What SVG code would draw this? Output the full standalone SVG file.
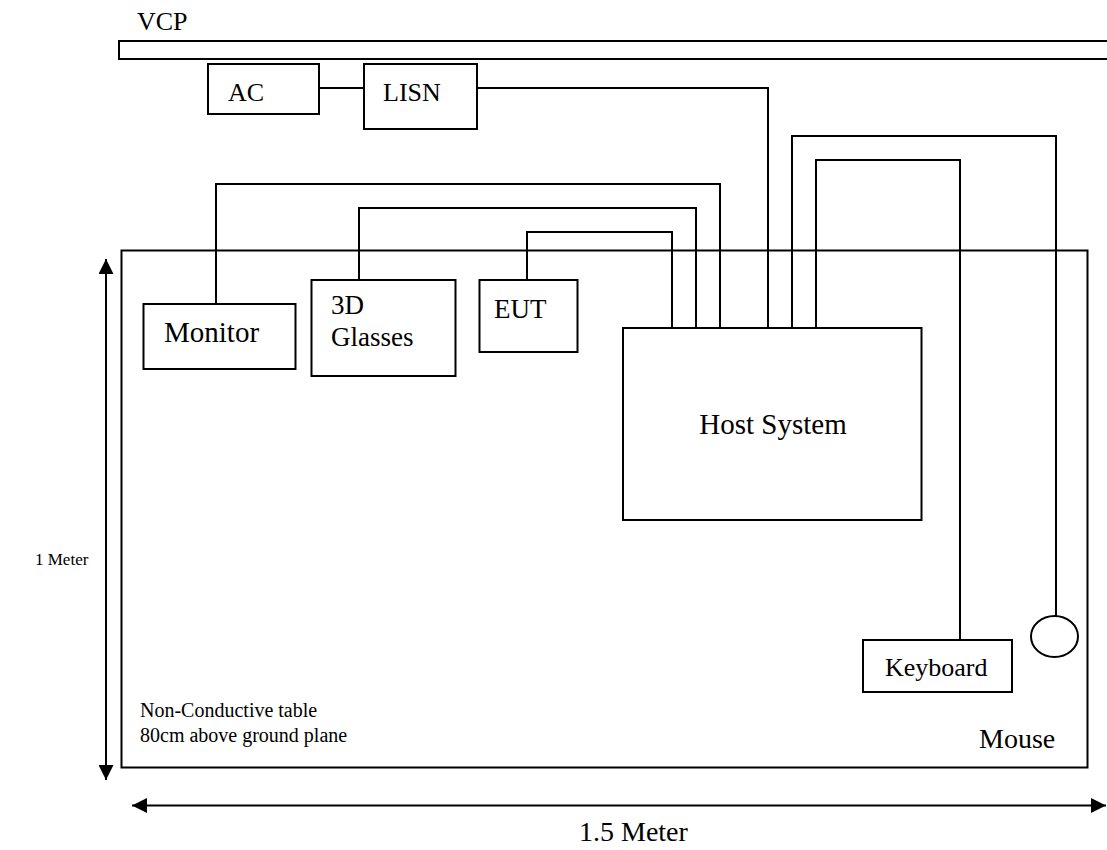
<svg xmlns="http://www.w3.org/2000/svg" width="1107" height="850" viewBox="0 0 1107 850">
<style>
.b{fill:#fff;stroke:#000;stroke-width:2}
.c{fill:none;stroke:#000;stroke-width:2}
text{font-family:"Liberation Serif","Times New Roman",serif;fill:#000}
</style>
<defs>
<marker id="ah" viewBox="0 0 10 10" refX="10" refY="5" markerWidth="15" markerHeight="15" markerUnits="userSpaceOnUse" orient="auto-start-reverse">
<path d="M0,0 L10,5 L0,10 z" fill="#000"/>
</marker>
</defs>
<rect width="1107" height="850" fill="#fff"/>
<g id="vcp">
<text x="137" y="30" font-size="26">VCP</text>
<rect class="b" x="119" y="41" width="1000" height="18"/>
</g>
<g id="table">
<rect class="b" x="121.5" y="250.5" width="966" height="517"/>
<text x="140" y="717" font-size="20">Non-Conductive table</text>
<text x="140" y="742" font-size="20">80cm above ground plane</text>
</g>
<g id="dims">
<line class="c" x1="106" y1="259" x2="106" y2="780" marker-start="url(#ah)" marker-end="url(#ah)"/>
<line class="c" x1="132" y1="805.5" x2="1106" y2="805.5" marker-start="url(#ah)" marker-end="url(#ah)"/>
<text x="35" y="565" font-size="17">1 Meter</text>
<text x="579" y="841" font-size="28">1.5 Meter</text>
</g>
<g id="connectors">
<polyline class="c" points="319,88 364,88"/>
<polyline class="c" points="477,88 768,88 768,328"/>
<polyline class="c" points="216,304 216,184 720,184 720,328"/>
<polyline class="c" points="359,280 359,208 696,208 696,328"/>
<polyline class="c" points="527,280 527,232 672,232 672,328"/>
<polyline class="c" points="792,328 792,136 1056,136 1056,616"/>
<polyline class="c" points="816,328 816,160 960,160 960,640"/>
</g>
<g id="ac">
<rect class="b" x="208" y="64" width="111" height="50"/>
<text x="228" y="101" font-size="26">AC</text>
</g>
<g id="lisn">
<rect class="b" x="364" y="64" width="113" height="65"/>
<text x="383" y="101" font-size="26">LISN</text>
</g>
<g id="monitor">
<rect class="b" x="143.5" y="304" width="152" height="65"/>
<text x="164" y="342" font-size="29">Monitor</text>
</g>
<g id="glasses">
<rect class="b" x="311.5" y="280" width="144" height="96"/>
<text x="331" y="314" font-size="27">3D</text>
<text x="331" y="346" font-size="27">Glasses</text>
</g>
<g id="eut">
<rect class="b" x="479.5" y="280" width="98" height="72"/>
<text x="494" y="318" font-size="27">EUT</text>
</g>
<g id="host">
<rect class="b" x="623" y="328" width="298.5" height="192"/>
<text x="773" y="434" font-size="29" text-anchor="middle">Host System</text>
</g>
<g id="keyboard">
<rect class="b" x="863" y="640" width="149" height="52"/>
<text x="885" y="676" font-size="26">Keyboard</text>
</g>
<g id="mouse">
<ellipse class="b" cx="1054.5" cy="636.5" rx="23.5" ry="20.5"/>
<text x="979" y="748" font-size="28">Mouse</text>
</g>
</svg>
